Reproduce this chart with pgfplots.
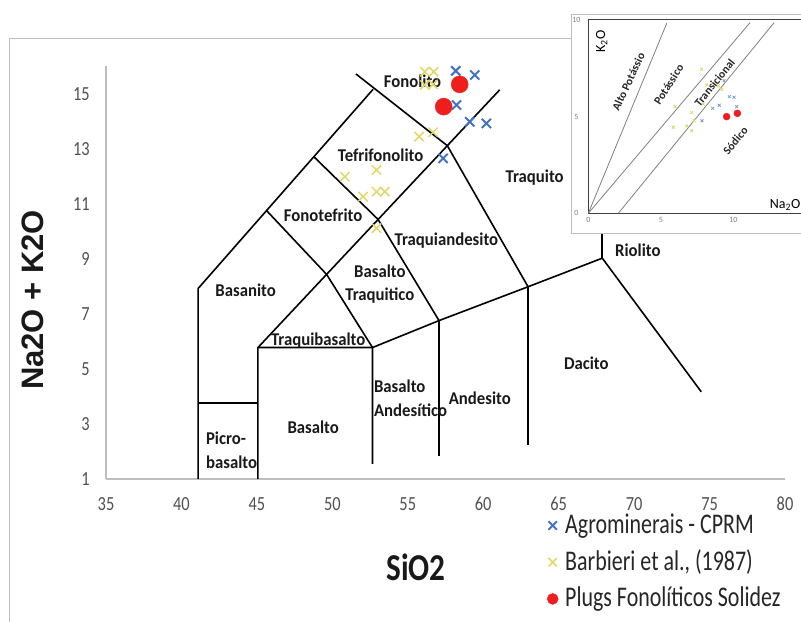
\documentclass[border=0pt]{standalone}
\usepackage{pgfplots}
\pgfplotsset{compat=1.18}
\usepackage{fontspec}
\setmainfont{Carlito}
\newfontfamily\calib{Carlito}[FakeStretch=0.82]
\newfontfamily\legf{Carlito}[FakeStretch=0.77]
\newfontfamily\regf{Carlito}[FakeStretch=0.93]
\newfontfamily\libb{Liberation Sans}
\definecolor{xblue}{RGB}{68,114,196}
\definecolor{xyel}{RGB}{226,214,105}
\definecolor{xred}{RGB}{238,30,30}
\definecolor{axgray}{RGB}{190,190,190}
\definecolor{tickgray}{RGB}{80,80,80}
\begin{document}
\begin{tikzpicture}[x=1bp,y=1bp]
\useasboundingbox (0,0) rectangle (801,622);
\draw[axgray, line width=0.8bp] (9.5,-5) -- (9.5,584) -- (810,584);
\begin{axis}[
  at={(106bp,143bp)}, anchor=south west,
  scale only axis, width=679bp, height=412.5bp,
  xmin=35, xmax=80, ymin=1, ymax=16,
  axis x line*=bottom, axis y line*=left,
  axis line style={axgray, line width=1.1bp, -},
  major tick length=0pt,
  xtick={35,40,...,80}, ytick={1,3,...,15},
  /pgf/number format/assume math mode=true,
  tick label style={font=\calib\fontsize{20bp}{22bp}\selectfont, text=tickgray},
  yticklabel style={anchor=east, inner sep=0pt, xshift=-16bp},
  xticklabel style={anchor=north, inner sep=0pt, yshift=-18bp},
  xlabel={SiO2},
  xlabel style={at={(axis description cs:0.4566,-0.2133)}, anchor=center, font=\calib\bfseries\fontsize{38bp}{40bp}\selectfont, text=black!90},
  ylabel={Na2O + K2O},
  ylabel style={at={(axis description cs:-0.1082,0.434)}, anchor=center, rotate=0, font=\libb\bfseries\fontsize{31bp}{34bp}\selectfont, text=black!90},
  clip=false,
  legend style={at={(axis description cs:0.6495,-0.0832)}, anchor=north west, draw=none, fill=none, inner sep=0pt, row sep=9.7bp, column sep=7bp,
    nodes={inner sep=0pt, text height=20bp, text depth=7bp, font=\legf\fontsize{28.5bp}{30bp}\selectfont, text=black!85}},
  legend cell align=left,
  legend image code/.code={\draw[#1] plot coordinates {(0bp,1.5bp)};},
]
% TAS boundaries
\addplot[black, line width=1.6bp, forget plot] coordinates {(41.11,1) (41.11,7.93) (52.70,15.17)};
\addplot[black, line width=1.6bp, forget plot] coordinates {(51.56,15.73) (57.62,13.12) (62.97,7.99) (62.97,2.24)};
\addplot[black, line width=1.6bp, forget plot] coordinates {(61.09,15.15) (45.07,5.78) (45.07,1)};
\addplot[black, line width=1.6bp, forget plot] coordinates {(48.77,12.72) (53.03,10.44) (57.07,6.76) (57.07,1.84)};
\addplot[black, line width=1.6bp, forget plot] coordinates {(45.64,10.76) (49.62,8.44) (52.66,5.78) (52.66,1.55)};
\addplot[black, line width=1.6bp, forget plot] coordinates {(41.11,3.77) (45.07,3.77)};
\addplot[black, line width=1.6bp, forget plot] coordinates {(45.07,5.78) (52.66,5.78) (57.07,6.76) (62.97,7.99) (67.89,9.03) (74.45,4.17)};
\addplot[black, line width=1.6bp, forget plot] coordinates {(67.89,9.03) (67.89,10.3)};
% data
\addplot[only marks, mark=x, xyel, mark size=6.5bp, line width=1.5bp, forget plot] coordinates {
(56.13,15.81) (56.72,15.81) (56.13,15.33) (56.68,15.35) (55.75,13.45) (56.68,13.61)
(50.83,11.99) (52.93,12.24) (52.04,11.27) (52.93,11.45) (53.48,11.45) (52.93,10.12)};
\addplot[only marks, mark=x, xblue, mark size=6.5bp, line width=2bp, forget plot] coordinates {
(58.18,15.84) (59.44,15.69) (58.23,14.60) (59.11,13.99) (60.21,13.93) (57.34,12.66)};
\addplot[only marks, mark=*, xred, mark size=8.5bp, forget plot] coordinates {(58.44,15.35) (57.38,14.54)};
% legend
\addlegendimage{only marks, mark=x, xblue, mark size=6bp, line width=2bp}
\addlegendentry{Agrominerais - CPRM}
\addlegendimage{only marks, mark=x, xyel, mark size=6bp, line width=1.5bp}
\addlegendentry{Barbieri et al., (1987)}
\addlegendimage{only marks, mark=*, xred, mark size=5.5bp}
\addlegendentry{Plugs Fonolíticos Solidez}
% region labels
\begin{scope}[every node/.style={font=\regf\bfseries\fontsize{18bp}{23.4bp}\selectfont, text=black!90, inner sep=0pt}]
\node at (axis cs:55.31,15.47) {Fonolito};
\node at (axis cs:53.2,12.78) {Tefrifonolito};
\node at (axis cs:63.41,11.97) {Traquito};
\node at (axis cs:49.39,10.6) {Fonotefrito};
\node at (axis cs:57.56,9.67) {Traquiandesito};
\node at (axis cs:44.25,7.87) {Basanito};
\node[align=center] at (axis cs:53.15,8.09) {Basalto\\Traquitico};
\node at (axis cs:49.06,6.05) {Traquibasalto};
\node[align=left, anchor=west] at (axis cs:41.62,2.05) {Picro-\\basalto};
\node at (axis cs:48.73,2.88) {Basalto};
\node[align=left, anchor=west] at (axis cs:52.75,3.94) {Basalto\\Andesítico};
\node at (axis cs:59.77,3.93) {Andesito};
\node at (axis cs:66.83,5.21) {Dacito};
\node at (axis cs:70.25,9.3) {Riolito};
\end{scope}
\end{axis}
% inset
\filldraw[fill=white, draw=axgray, line width=0.8bp] (571,389) rectangle (806,608);
\begin{axis}[
  at={(588.3bp,408.7bp)}, anchor=south west,
  scale only axis, width=217.5bp, height=193.3bp,
  xmin=0, xmax=15, ymin=0, ymax=10,
  axis line style={black!75, line width=1bp},
  major tick length=0pt,
  xtick={0,5,10}, ytick={0,5,10},
  /pgf/number format/assume math mode=true,
  tick label style={font=\fontsize{8bp}{9bp}\selectfont, text=gray},
  yticklabel style={anchor=center, inner sep=0pt, xshift=-12bp},
  xticklabel style={anchor=center, inner sep=0pt, yshift=-6.5bp},
]
\addplot[black!50, line width=0.8bp] coordinates {(0,0) (5.41,9.83)};
\addplot[black!50, line width=0.8bp] coordinates {(0,0) (11.15,9.86)};
\addplot[black!50, line width=0.8bp] coordinates {(2.07,0) (12.81,9.86)};
\addplot[only marks, mark=x, xyel, mark size=2bp, line width=0.8bp] coordinates {
(7.82,7.45) (9.2,6.41) (8.97,6.59) (8.17,6.64) (5.98,5.52) (7.13,5.21) (7.93,5.65)
(5.86,4.45) (6.79,4.52) (7.29,4.79) (7.13,4.27)};
\addplot[only marks, mark=x, xblue!70, mark size=2bp, line width=0.8bp] coordinates {
(9.36,6.86) (9.73,6.03) (10.05,6.0) (9.03,5.59) (8.58,5.43) (7.84,4.79) (10.23,5.52)};
\addplot[only marks, mark=*, xred, mark size=3.5bp] coordinates {(9.54,5.0) (10.28,5.17)};
\begin{scope}[every node/.style={font=\bfseries\fontsize{11.5bp}{13bp}\selectfont, text=black!85, inner sep=0pt}]
\node[rotate=65] at (axis cs:2.76,6.8) {Alto Potássio};
\node[rotate=57] at (axis cs:5.54,6.67) {Potássico};
\node[rotate=51] at (axis cs:8.71,6.76) {Transicional};
\node[rotate=50] at (axis cs:10.14,3.76) {Sódico};
\end{scope}
\node[rotate=90, font=\fontsize{14bp}{16bp}\selectfont, inner sep=0pt] at (axis cs:0.92,8.88) {K\textsubscript{2}O};
\node[font=\fontsize{14bp}{16bp}\selectfont, inner sep=0pt] at (axis cs:13.57,0.43) {Na\textsubscript{2}O};
\end{axis}
\end{tikzpicture}
\end{document}
